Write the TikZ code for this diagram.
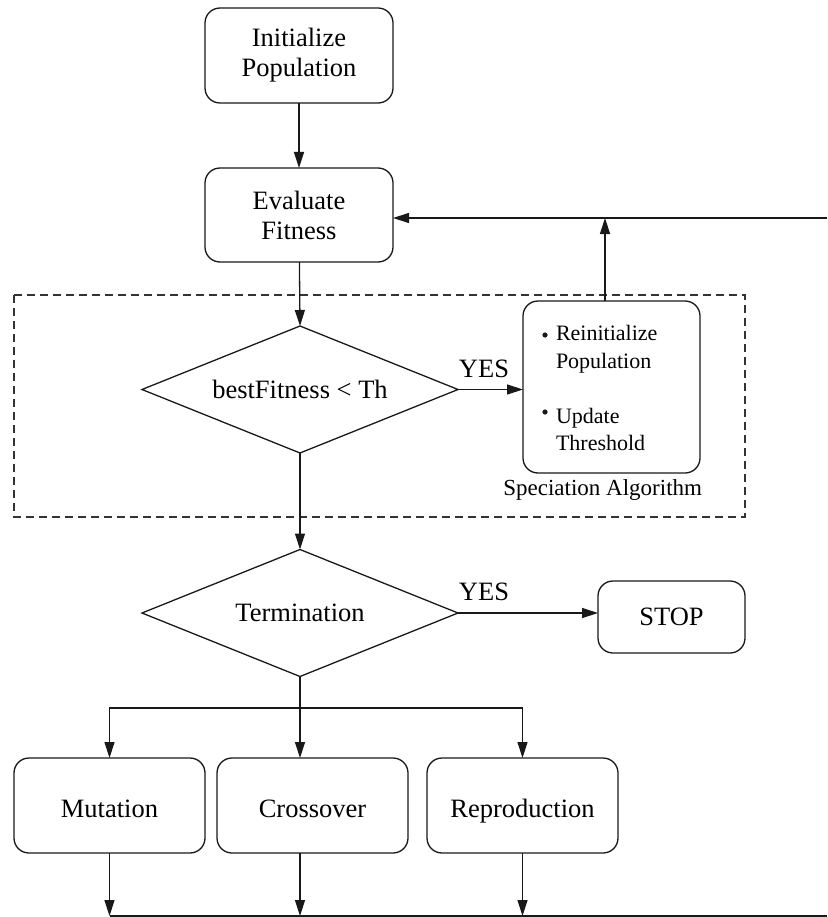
\documentclass[tikz,border=0pt]{standalone}
\usepackage{fontspec}
\setmainfont{Liberation Serif}
\usetikzlibrary{arrows.meta,shapes.geometric}
\begin{document}
\begin{tikzpicture}[x=1pt,y=-1pt,
  every node/.style={inner sep=0pt, outer sep=0pt},
  line/.style={line width=1.3pt, draw=black!90},
  arr/.style={line, -{Triangle[length=16pt,width=10pt]}},
  rbox/.style={draw=black!90, line width=1.3pt, rounded corners=15pt, rectangle, align=center, font=\fontsize{26.5}{30}\selectfont},
  opbox/.style={rbox, minimum width=191pt, minimum height=95pt, text height=23pt, text depth=0pt},
  dec/.style={draw=black!90, line width=1.3pt, shape=diamond, aspect=2.49, minimum width=316pt, minimum height=127pt, font=\fontsize{26.5}{30}\selectfont},
  lbl/.style={font=\fontsize{26.5}{30}\selectfont},
  small/.style={font=\fontsize{22}{26}\selectfont}]
\useasboundingbox (0,0) rectangle (827,917);

% dashed region
\draw[line width=1.2pt, draw=black!80, dash pattern=on 8pt off 5pt] (14,295) rectangle (745,517);
\node[anchor=base east, font=\fontsize{23}{26}\selectfont] (spec) at (702,495) {Speciation Algorithm};

% nodes
\node[rbox, minimum width=188pt, minimum height=95pt] (init) at (299,55.5) {Initialize\\Population};
\node[rbox, minimum width=188pt, minimum height=94pt] (eval) at (299,215) {Evaluate\\Fitness};
\node[dec] (d1) at (300,389.5) {bestFitness < Th};
\node[rbox, minimum width=177pt, minimum height=172pt] (reinit) at (611.5,387) {};
\node[small, anchor=base west] (t1) at (556,340) {Reinitialize};
\node[small, anchor=base west] (t2) at (556,368) {Population};
\node[small, anchor=base west] (t3) at (556,423) {Update};
\node[small, anchor=base west] (t4) at (556,450) {Threshold};
\fill[black!90] (545,335) circle (2.6pt);
\fill[black!90] (545,412) circle (2.6pt);

\node[dec] (d2) at (300,613) {Termination};
\node[rbox, minimum width=147pt, minimum height=72pt] (stop) at (671.5,617) {STOP};
\node[opbox] (mut) at (109.5,805.5) {Mutation};
\node[opbox] (cross) at (312.5,805.5) {Crossover};
\node[opbox] (rep) at (522.5,805.5) {Reproduction};

\node[lbl, anchor=base] (yes1) at (484,377) {YES};
\node[lbl, anchor=base] (yes2) at (484,600) {YES};

% coordinates
\coordinate (fb) at (827,218);
\coordinate (up) at (605,218);
\coordinate (br) at (300,708);
\coordinate (bot) at (827,916);

% connectors
\draw[arr] (init) -- (eval);
\draw[line] (fb) -- (up);
\draw[arr] (up) -- (eval.east |- fb);
\draw[arr] (reinit.north -| up) -- (up);
\draw[arr] (eval) -- (d1.north);
\draw[arr] (d1.east) -- (d1.east -| reinit.west);
\draw[arr] (d1.south) -- (d2.north);
\draw[arr] (d2.east) -- (d2.east -| stop.west);
\draw[line] (d2.south) -- (br);
\draw[arr] (br) -- (cross.north -| br);
\draw[arr] (br) -| (mut.north);
\draw[arr] (br) -| (rep.north);
\draw[arr] (mut.south) -- (mut.south |- bot);
\draw[arr] (cross.south -| br) -- (br |- bot);
\draw[arr] (rep.south) -- (rep.south |- bot);
\draw[line] (mut.south |- bot) -- (bot);
\end{tikzpicture}
\end{document}
